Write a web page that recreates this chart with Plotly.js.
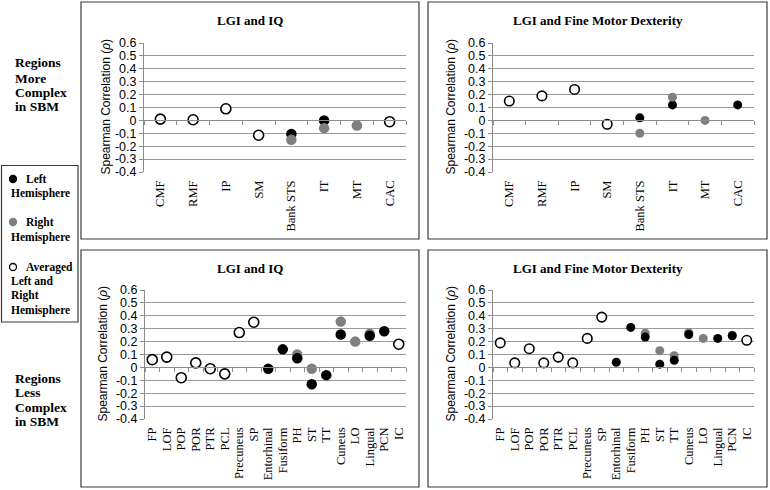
<!DOCTYPE html>
<html>
<head>
<meta charset="utf-8">
<script src="https://cdn.plot.ly/plotly-3.0.1.min.js"></script>
<style>
  html, body { margin: 0; padding: 0; background: #fff; }
  #plot { width: 770px; height: 490px; }
</style>
</head>
<body>
<div id="plot"></div>
<script>
// Kategori wilayah (regions)
const moreCats = ['CMF', 'RMF', 'IP', 'SM', 'Bank STS', 'IT', 'MT', 'CAC'];
const lessCats = ['FP', 'LOF', 'POP', 'POR', 'PTR', 'PCL', 'Precuneus', 'SP', 'Entorhinal',
                  'Fusiform', 'PH', 'ST', 'TT', 'Cuneus', 'LO', 'Lingual', 'PCN', 'IC'];

// LGI and IQ - regions more complex
const iqMoreLeft  = [null, null, null, null, -0.105, 0.00, null, null];
const iqMoreRight = [null, null, null, null, -0.15, -0.06, -0.04, null];
const iqMoreAvg   = [0.01, 0.005, 0.09, -0.115, null, null, null, -0.01];

// LGI and Fine Motor Dexterity - regions more complex
const fmMoreLeft  = [null, null, null, null, 0.02, 0.12, null, 0.12];
const fmMoreRight = [null, null, null, null, -0.10, 0.18, 0.00, null];
const fmMoreAvg   = [0.15, 0.19, 0.24, -0.03, null, null, null, null];

// LGI and IQ - regions less complex
const iqLessLeft  = [null, null, null, null, null, null, null, null, -0.01, 0.14, 0.07, -0.13, -0.06, 0.255, null, 0.245, 0.28, null];
const iqLessRight = [null, null, null, null, null, null, null, null, null, null, 0.10, -0.01, null, 0.355, 0.20, 0.26, null, null];
const iqLessAvg   = [0.06, 0.08, -0.08, 0.035, -0.01, -0.05, 0.27, 0.35, null, null, null, null, null, null, null, null, null, 0.18];

// LGI and Fine Motor Dexterity - regions less complex
const fmLessLeft  = [null, null, null, null, null, null, null, null, 0.04, 0.31, 0.235, 0.025, 0.055, 0.255, null, 0.225, 0.245, null];
const fmLessRight = [null, null, null, null, null, null, null, null, null, null, 0.265, 0.13, 0.09, 0.27, 0.225, null, 0.25, null];
const fmLessAvg   = [0.19, 0.035, 0.145, 0.035, 0.08, 0.035, 0.225, 0.39, null, null, null, null, null, null, null, null, null, 0.21];

// Label sumbu y
const yTickVals = [-0.4, -0.3, -0.2, -0.1, 0, 0.1, 0.2, 0.3, 0.4, 0.5, 0.6];
const yTickText = ['-0.4', '-0.3', '-0.2', '-0.1', '0', '0.1', '0.2', '0.3', '0.4', '0.5', '0.6'];

const W = 770, H = 490;
const fx = px => px / W;
const fy = py => 1 - py / H;

const SERIF = '"Liberation Serif", "Times New Roman", serif';
const SANS = '"Liberation Sans", Arial, sans-serif';
const GRID = '#9a9a9a';
const AXIS = '#8c8c8c';

const panels = [
  { cats: moreCats, left: iqMoreLeft, right: iqMoreRight, avg: iqMoreAvg, title: 'LGI and IQ',
    px: [144, 406], py: [43, 172], box: [81, 419, 2, 239], tx: 250, ty: 20, yt: 105, greyTop: true, fill: 10.5, open: 10 },
  { cats: moreCats, left: fmMoreLeft, right: fmMoreRight, avg: fmMoreAvg, title: 'LGI and Fine Motor Dexterity',
    px: [493, 754], py: [43, 172], box: [428, 767, 2, 239], tx: 598, ty: 20, yt: 450, greyTop: true, fill: 9, open: 9.5 },
  { cats: lessCats, left: iqLessLeft, right: iqLessRight, avg: iqLessAvg, title: 'LGI and IQ',
    px: [145, 406], py: [290, 419], box: [81, 419, 250, 487], tx: 250, ty: 268, yt: 102, greyTop: false, fill: 10.5, open: 10 },
  { cats: lessCats, left: fmLessLeft, right: fmLessRight, avg: fmLessAvg, title: 'LGI and Fine Motor Dexterity',
    px: [493, 754], py: [290, 419], box: [428, 767, 250, 487], tx: 598, ty: 268, yt: 450, greyTop: false, fill: 9, open: 9.5 }
];

const data = [];
const layout = {
  width: W, height: H,
  margin: { l: 0, r: 0, t: 0, b: 0 },
  paper_bgcolor: '#fff', plot_bgcolor: '#fff',
  showlegend: false,
  hovermode: false,
  shapes: [],
  annotations: []
};

panels.forEach((p, i) => {
  const n = i + 1;
  const xa = n === 1 ? 'x' : 'x' + n;
  const ya = n === 1 ? 'y' : 'y' + n;
  const za = 'x' + (n + 4); // sumbu pembantu untuk garis nol
  const xDom = [fx(p.px[0]), fx(p.px[1])];
  const yDom = [fy(p.py[1]), fy(p.py[0])];
  const range = [-0.5, p.cats.length - 0.5];

  const black = { x: p.cats, y: p.left, xaxis: xa, yaxis: ya, type: 'scatter', mode: 'markers', cliponaxis: false,
    marker: { color: '#000', size: p.fill } };
  const grey = { x: p.cats, y: p.right, xaxis: xa, yaxis: ya, type: 'scatter', mode: 'markers', cliponaxis: false,
    marker: { color: '#7f7f7f', size: p.fill } };
  const avg = { x: p.cats, y: p.avg, xaxis: xa, yaxis: ya, type: 'scatter', mode: 'markers', cliponaxis: false,
    marker: { color: '#fff', size: p.open, line: { color: '#000', width: 1.6 } } };
  if (p.greyTop) data.push(black, grey, avg); else data.push(grey, black, avg);
  data.push({ x: [], y: [], xaxis: za, yaxis: ya, type: 'scatter', mode: 'markers', hoverinfo: 'skip' });

  layout['xaxis' + (n === 1 ? '' : n)] = {
    domain: xDom, anchor: ya, type: 'category', categoryarray: p.cats, range: range,
    tickmode: 'linear', tick0: 0, dtick: 1,
    showgrid: false, zeroline: false, showline: false, ticks: '',
    tickangle: -90, ticklabelstandoff: 5,
    tickfont: { family: SERIF, size: 12.5, color: '#000' }
  };
  layout['yaxis' + (n === 1 ? '' : n)] = {
    domain: yDom, anchor: xa, range: [-0.4, 0.6],
    tickvals: yTickVals, ticktext: yTickText,
    showgrid: true, gridcolor: GRID, gridwidth: 1, zeroline: false,
    showline: true, linecolor: AXIS, linewidth: 1,
    ticks: 'outside', ticklen: 4, tickcolor: AXIS,
    tickfont: { family: SANS, size: 12.5, color: '#000' }
  };
  // garis sumbu kategori pada y = 0, dengan tick di antara kategori
  const zeroPos = yDom[0] + (0 - (-0.4)) / 1.0 * (yDom[1] - yDom[0]);
  layout['xaxis' + (n + 4)] = {
    overlaying: xa, anchor: 'free', position: zeroPos, domain: xDom,
    range: range, tickvals: p.cats.map((_, k) => k - 0.5).concat(p.cats.length - 0.5),
    showticklabels: false, showgrid: false, zeroline: false,
    showline: true, linecolor: AXIS, linewidth: 1,
    ticks: 'outside', ticklen: 4, tickcolor: AXIS
  };

  layout.shapes.push({ type: 'rect', xref: 'paper', yref: 'paper',
    x0: fx(p.box[0]), x1: fx(p.box[1]), y0: fy(p.box[3]), y1: fy(p.box[2]),
    line: { color: '#3a3a3a', width: 1.2 } });

  layout.annotations.push({ xref: 'paper', yref: 'paper', x: fx(p.tx), y: fy(p.ty),
    xanchor: 'center', yanchor: 'middle', showarrow: false,
    text: '<b>' + p.title + '</b>', font: { family: SERIF, size: 13, color: '#000' } });
  layout.annotations.push({ xref: 'paper', yref: 'paper', x: fx(p.yt), y: fy((p.py[0] + p.py[1]) / 2 - 1),
    xanchor: 'center', yanchor: 'middle', showarrow: false, textangle: -90,
    text: 'Spearman Correlation (<i>ρ</i>)', font: { family: SANS, size: 12, color: '#000' } });
});

// Label samping kiri
function sideText(txt, x, y, size) {
  layout.annotations.push({ xref: 'paper', yref: 'paper', x: fx(x), y: fy(y),
    xanchor: 'left', yanchor: 'middle', showarrow: false,
    text: '<b>' + txt + '</b>', font: { family: SERIF, size: size, color: '#000' } });
}
[['Regions', 63], ['More', 78], ['Complex', 92], ['in SBM', 107]].forEach(t => sideText(t[0], 13, t[1], 13.5));
[['Regions', 378], ['Less', 392], ['Complex', 407], ['in SBM', 421]].forEach(t => sideText(t[0], 13, t[1], 13.5));

// Kotak legenda
layout.shapes.push({ type: 'rect', xref: 'paper', yref: 'paper',
  x0: fx(1.5), x1: fx(78), y0: fy(322), y1: fy(165.5), line: { color: '#3a3a3a', width: 1.2 } });

// simbol legenda (lingkaran kecil)
function legendDot(cy, fill, lineColor) {
  layout.shapes.push({ type: 'circle', xref: 'paper', yref: 'paper',
    x0: fx(9.5), x1: fx(16.5), y0: fy(cy + 3.5), y1: fy(cy - 3.5),
    fillcolor: fill, line: { color: lineColor, width: 1.3 } });
}
legendDot(179, '#000', '#000');
legendDot(222, '#7f7f7f', '#7f7f7f');
legendDot(267, '#fff', '#000');

sideText('Left', 24, 179, 11.5);
sideText('Hemisphere', 9, 193, 11.5);
sideText('Right', 24, 222, 11.5);
sideText('Hemisphere', 9, 237, 11.5);
sideText('Averaged', 24, 267, 11.5);
sideText('Left and', 9, 281, 11.5);
sideText('Right', 9, 295, 11.5);
sideText('Hemisphere', 9, 310, 11.5);

Plotly.newPlot('plot', data, layout, { staticPlot: true, displayModeBar: false });
</script>
</body>
</html>
